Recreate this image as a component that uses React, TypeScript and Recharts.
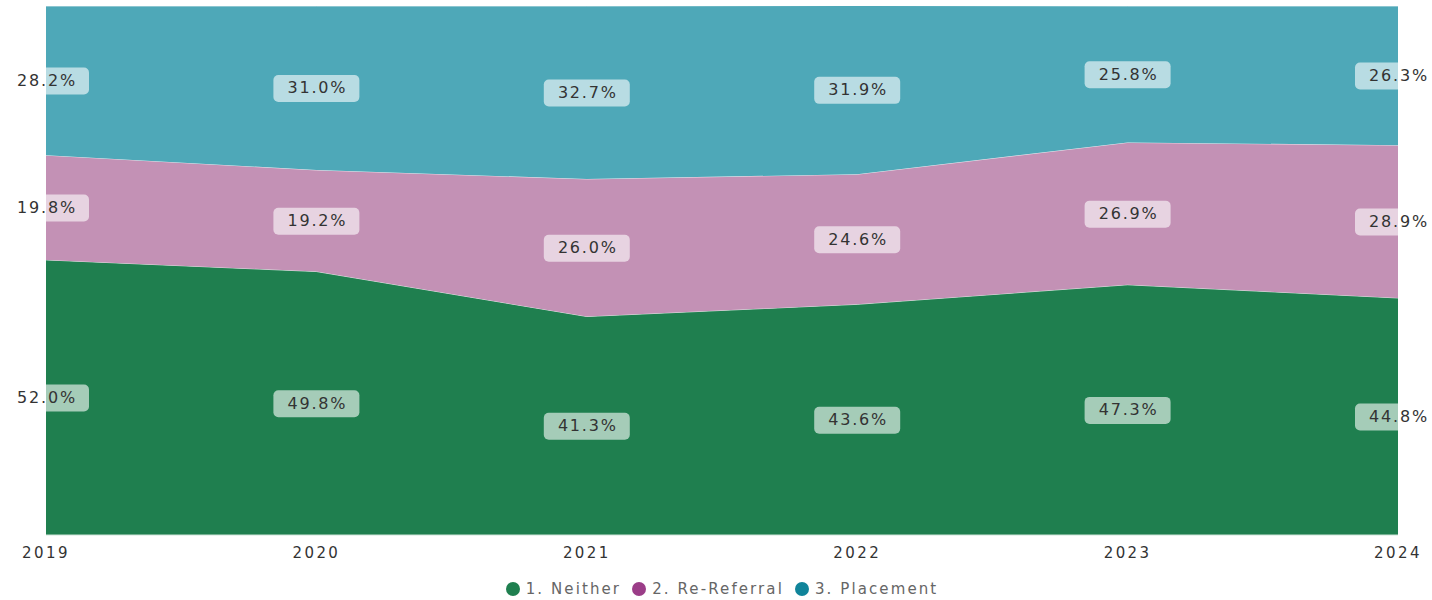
import { AreaChart, Area, Line, XAxis, YAxis, Legend, LabelList } from 'recharts';

const years = ['2019', '2020', '2021', '2022', '2023', '2024'];
const neither = [52.0, 49.8, 41.3, 43.6, 47.3, 44.8];
const reReferral = [19.8, 19.2, 26.0, 24.6, 26.9, 28.9];
const placement = [28.2, 31.0, 32.7, 31.9, 25.8, 26.3];

const series = [
  { key: 'neither', name: '1. Neither', fill: '#1f7f4f', dot: '#1f7f4f' },
  { key: 'reReferral', name: '2. Re-Referral', fill: '#c391b5', dot: '#9b3d88' },
  { key: 'placement', name: '3. Placement', fill: '#4ea8b8', dot: '#10849a' },
];

// midpoints of each band, used only to place the value labels
const chartData = years.map((year, i) => ({
  year,
  neither: neither[i],
  reReferral: reReferral[i],
  placement: placement[i],
  neitherMid: neither[i] / 2,
  reReferralMid: neither[i] + reReferral[i] / 2,
  placementMid: neither[i] + reReferral[i] + placement[i] / 2,
}));

const FONT = '"DejaVu Sans", Verdana, sans-serif';

const PctLabel = (props: any) => {
  const { x, y, value } = props;
  if (x == null || y == null) return null;
  return (
    <g>
      <rect x={x - 43} y={y - 13} width={86} height={27} rx={5} fill="#fff" fillOpacity={0.6} />
      <text
        x={x + 1}
        y={y + 1}
        textAnchor="middle"
        dominantBaseline="middle"
        fontFamily={FONT}
        fontSize={16}
        letterSpacing={1.8}
        fill="#333"
      >
        {Number(value).toFixed(1)}%
      </text>
    </g>
  );
};

const LegendContent = () => (
  <div
    style={{
      display: 'flex',
      justifyContent: 'center',
      gap: 11,
      fontFamily: FONT,
      fontSize: 15,
      letterSpacing: 2.1,
      color: '#666',
      height: 22,
      alignItems: 'center',
    }}
  >
    {series.map(s => (
      <span key={s.key} style={{ display: 'flex', alignItems: 'center' }}>
        <span
          style={{
            width: 14,
            height: 14,
            borderRadius: 7,
            background: s.dot,
            display: 'inline-block',
            marginRight: 6,
          }}
        />
        {s.name}
      </span>
    ))}
  </div>
);

export default function App() {
  return (
    <div style={{ position: 'absolute', left: 0, top: 0, width: 1432, height: 600, background: '#fff' }}>
      <AreaChart
        width={1432}
        height={600}
        data={chartData}
        margin={{ top: 6, right: 34, left: 46, bottom: 0 }}
      >
        <XAxis
          dataKey="year"
          axisLine={{ stroke: '#cfe5d9' }}
          tickLine={false}
          tickMargin={6}
          height={43}
          interval={0}
          tick={{ fontFamily: FONT, fontSize: 15, fill: '#333', letterSpacing: 2.4 }}
        />
        <YAxis hide domain={[0, 100]} allowDataOverflow />
        {series.map(s => (
          <Area
            key={s.key}
            type="linear"
            dataKey={s.key}
            name={s.name}
            stackId="1"
            fill={s.fill}
            fillOpacity={1}
            stroke="#ffffff"
            strokeOpacity={0.7}
            strokeWidth={1}
            isAnimationActive={false}
          />
        ))}
        {series.map(s => (
          <Line
            key={s.key + 'Mid'}
            type="linear"
            dataKey={s.key + 'Mid'}
            stroke="none"
            dot={false}
            activeDot={false}
            legendType="none"
            isAnimationActive={false}
          >
            <LabelList dataKey={s.key} content={PctLabel} />
          </Line>
        ))}
        <Legend verticalAlign="bottom" content={LegendContent} />
      </AreaChart>
    </div>
  );
}
